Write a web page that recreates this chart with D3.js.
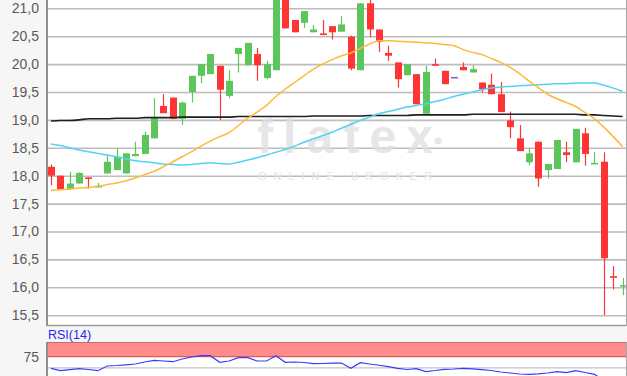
<!DOCTYPE html>
<html>
<head>
<meta charset="utf-8">
<script src="https://cdn.jsdelivr.net/npm/d3@7/dist/d3.min.js"></script>
<style>
  html, body { margin: 0; padding: 0; background: #f6f6f6; }
  svg { display: block; }
  text { font-family: "Liberation Sans", Arial, sans-serif; }
</style>
</head>
<body>
<svg id="chart" width="627" height="376"></svg>
<script>
// Daily OHLC, oldest first
const open  = [18.16,18.00,17.76,17.86,17.97,17.79,18.04,18.10,18.04,18.35,
               18.39,18.67,19.25,19.40,19.02,19.50,19.79,19.82,19.97,19.43,
               20.18,19.98,20.18,19.75,19.89,21.25,20.79,20.74,20.57,20.55,
               20.68,20.58,20.49,19.89,21.09,20.62,20.20,20.03,19.80,19.82,
               19.11,20.00,19.88,19.77,19.95,19.85,19.67,19.63,19.46,18.99,
               18.67,18.24,18.61,18.10,18.12,18.42,18.24,18.76,18.21,18.25,
               16.20,16.02];
const high  = [18.20,18.00,18.07,18.06,17.97,17.87,18.37,18.49,18.40,18.61,
               18.79,19.39,19.46,19.40,19.33,19.79,20.00,20.18,19.97,19.89,
               20.29,20.38,20.29,20.06,21.35,21.30,20.79,20.95,20.70,20.79,
               20.68,20.86,20.51,21.09,21.15,20.62,20.33,20.03,20.00,19.82,
               19.97,20.10,19.88,19.77,20.03,19.98,19.67,19.83,19.68,19.15,
               18.91,18.50,18.61,18.21,18.64,18.61,18.84,18.86,18.42,18.42,
               16.38,16.17];
const low   = [17.83,17.75,17.75,17.86,17.77,17.79,18.04,18.10,18.04,18.35,
               18.39,18.67,19.12,19.02,18.91,19.31,19.66,19.82,19.00,19.39,
               19.85,19.98,19.70,19.73,19.89,20.64,20.57,20.65,20.57,20.52,
               20.44,20.58,19.89,19.89,20.48,20.22,20.06,19.58,19.80,19.28,
               19.11,19.97,19.64,19.77,19.89,19.85,19.49,19.46,19.14,18.67,
               18.44,18.19,17.80,17.95,18.12,18.24,18.24,18.18,18.21,15.50,
               15.96,15.86];
const close = [18.00,17.76,17.86,18.05,17.95,17.82,18.25,18.34,18.40,18.39,
               18.73,19.03,19.12,19.02,19.31,19.79,20.00,20.18,19.54,19.70,
               20.29,20.38,19.98,20.00,21.25,20.64,20.57,20.95,20.62,20.52,
               20.57,20.71,19.92,21.09,20.62,20.40,20.15,19.73,20.00,19.28,
               19.86,19.97,19.64,19.77,19.89,19.91,19.55,19.46,19.14,18.87,
               18.44,18.40,17.95,18.21,18.64,18.37,18.84,18.39,18.23,16.52,
               16.17,16.04];

// Moving averages
const maFast = [17.74,17.75,17.76,17.78,17.79,17.81,17.84,17.87,17.91,17.96,
                18.02,18.08,18.16,18.25,18.34,18.43,18.53,18.62,18.70,18.77,
                18.90,19.03,19.14,19.26,19.42,19.55,19.67,19.79,19.91,20.00,
                20.08,20.15,20.20,20.28,20.36,20.42,20.42,20.41,20.40,20.39,
                20.38,20.37,20.35,20.33,20.26,20.21,20.17,20.10,20.03,19.94,
                19.83,19.70,19.58,19.46,19.38,19.31,19.24,19.13,19.02,18.87,
                18.70,18.52];
const maMid  = [18.57,18.54,18.50,18.46,18.43,18.40,18.37,18.34,18.30,18.27,
                18.25,18.23,18.21,18.20,18.19,18.20,18.22,18.23,18.22,18.21,
                18.24,18.28,18.32,18.37,18.42,18.47,18.53,18.60,18.66,18.72,
                18.78,18.85,18.92,18.99,19.05,19.11,19.15,19.19,19.23,19.26,
                19.29,19.33,19.37,19.42,19.46,19.50,19.54,19.57,19.59,19.60,
                19.61,19.62,19.63,19.64,19.65,19.65,19.66,19.66,19.66,19.62,
                19.57,19.51];
const maSlow = [18.98,18.99,18.99,19.00,19.02,19.02,19.02,19.03,19.03,19.03,
                19.04,19.04,19.04,19.04,19.05,19.05,19.05,19.05,19.05,19.05,
                19.06,19.06,19.06,19.06,19.06,19.06,19.06,19.06,19.07,19.07,
                19.07,19.07,19.07,19.07,19.08,19.08,19.08,19.08,19.08,19.09,
                19.09,19.09,19.09,19.09,19.09,19.10,19.10,19.10,19.10,19.10,
                19.10,19.10,19.10,19.10,19.10,19.10,19.10,19.09,19.09,19.08,
                19.07,19.06];

// RSI(14)
const rsi = [49.1,43.8,46.0,48.2,46.5,43.8,54.2,55.3,56.9,58.6,
             63.1,66.8,65.3,63.7,69.7,74.1,77.0,77.0,62.4,65.3,
             72.6,72.6,65.3,65.3,77.0,62.4,63.1,62.0,59.3,59.7,
             60.4,60.8,49.1,61.5,58.6,55.8,52.7,49.1,46.5,48.2,
             42.0,44.2,46.9,47.6,49.1,48.0,46.0,44.2,40.9,38.7,
             36.5,35.8,36.9,38.7,41.6,39.4,43.8,39.8,35.8,22.0,
             20.0,21.0];

const priceTicks = [21.0,20.5,20.0,19.5,19.0,18.5,18.0,17.5,17.0,16.5,16.0,15.5];
const rsiTicks = [75];
const rsiGrid = [50];

const plotL = 47, plotR = 626;
const mainTop = 0, mainBot = 326;
const rsiTop = 342, rsiBot = 376;

const svg = d3.select("#chart");
const idx = d3.range(open.length);

const x = d3.scaleLinear().domain([0, open.length - 1]).range([51, 622.6]);
const y = d3.scaleLinear().domain([15.5, 21.0]).range([315.2, 8.3]);
const yr = d3.scaleLinear().domain([50, 75]).range([367.9, 356.6]);
const fmt = v => d3.format(".1f")(v).replace(".", ",");

// panels
svg.append("rect").attr("x", plotL).attr("y", mainTop)
  .attr("width", plotR - plotL).attr("height", mainBot - mainTop).attr("fill", "#fff");
svg.append("rect").attr("x", plotL).attr("y", rsiTop)
  .attr("width", plotR - plotL).attr("height", rsiBot - rsiTop).attr("fill", "#fff");

const defs = svg.append("defs");
defs.append("clipPath").attr("id", "mainClip")
  .append("rect").attr("x", plotL).attr("y", mainTop)
  .attr("width", plotR - plotL).attr("height", mainBot - mainTop);
defs.append("clipPath").attr("id", "rsiClip")
  .append("rect").attr("x", plotL).attr("y", rsiTop)
  .attr("width", plotR - plotL).attr("height", rsiBot - rsiTop);

// price grid + labels
const yAxis = d3.axisLeft(y).tickValues(priceTicks).tickFormat(fmt)
  .tickSize(-(plotR - plotL)).tickPadding(8);
const gy = svg.append("g").attr("transform", `translate(${plotL},0)`).call(yAxis);
gy.select(".domain").remove();
gy.selectAll(".tick line").attr("stroke", "#bdbdbd").attr("stroke-width", 1.6);
gy.selectAll(".tick text").attr("fill", "#5a5a5a").attr("font-size", 14)
  .attr("font-family", "Liberation Sans, Arial, sans-serif");

// watermark
const wm = svg.append("g").attr("clip-path", "url(#mainClip)");
wm.append("text").attr("x", 257).attr("y", 153)
  .attr("textLength", 176).attr("lengthAdjust", "spacing")
  .attr("font-family", "Lato, sans-serif").attr("font-weight", 700).attr("font-size", 48)
  .attr("fill", "#e0e0e0").attr("fill-opacity", 0.8).text("flatex");
wm.append("circle").attr("cx", 438).attr("cy", 141).attr("r", 3.6)
  .attr("fill", "#e0e0e0").attr("fill-opacity", 0.8);
wm.append("text").attr("x", 258).attr("y", 180)
  .attr("textLength", 174).attr("lengthAdjust", "spacing")
  .attr("font-family", "Liberation Sans, Arial, sans-serif").attr("font-size", 11)
  .attr("fill", "#e4e4e4").text("ONLINE BROKER");

// candles
const up = "#5cc65c", down = "#ff3535", flat = "#8a5fd6";
const colorOf = i => close[i] > open[i] ? up : (close[i] < open[i] ? down : flat);
const cg = svg.append("g").attr("clip-path", "url(#mainClip)");
const bodyW = 7;
cg.selectAll("line.wick").data(idx).join("line").attr("class", "wick")
  .attr("x1", i => Math.round(x(i)) + 0.5).attr("x2", i => Math.round(x(i)) + 0.5)
  .attr("y1", i => y(high[i])).attr("y2", i => y(low[i]))
  .attr("stroke", colorOf).attr("stroke-width", 1.2);
cg.selectAll("rect.body").data(idx).join("rect").attr("class", "body")
  .attr("x", i => Math.round(x(i)) + 0.5 - bodyW / 2)
  .attr("width", bodyW)
  .attr("y", i => y(Math.max(open[i], close[i])))
  .attr("height", i => Math.max(1.6, Math.abs(y(open[i]) - y(close[i]))))
  .attr("fill", colorOf);

// moving averages
const line = d3.line().x((d, i) => x(i)).y(d => y(d)).curve(d3.curveMonotoneX);
const lg = svg.append("g").attr("clip-path", "url(#mainClip)").attr("fill", "none");
lg.append("path").datum(maSlow).attr("d", line).attr("stroke", "#1e1e1e").attr("stroke-width", 1.6);
lg.append("path").datum(maMid).attr("d", line).attr("stroke", "#4fd3f2").attr("stroke-width", 1.5);
lg.append("path").datum(maFast).attr("d", line).attr("stroke", "#ffb93a").attr("stroke-width", 1.5);

// main frame
svg.append("line").attr("x1", plotL).attr("x2", plotL).attr("y1", 0).attr("y2", mainBot)
  .attr("stroke", "#8f8f8f").attr("stroke-width", 2);
svg.append("line").attr("x1", plotL).attr("x2", plotR).attr("y1", mainBot - 0.5).attr("y2", mainBot - 0.5)
  .attr("stroke", "#9a9a9a").attr("stroke-width", 1.5);
svg.append("line").attr("x1", plotR + 0.5).attr("x2", plotR + 0.5).attr("y1", 0).attr("y2", mainBot)
  .attr("stroke", "#a8a8a8").attr("stroke-width", 1);

// RSI panel
svg.append("text").attr("x", 48).attr("y", 339).attr("font-size", 12.5)
  .attr("fill", "#2525f0").text("RSI(14)");
svg.append("rect").attr("x", plotL).attr("y", rsiTop)
  .attr("width", plotR - plotL).attr("height", yr(75) - rsiTop)
  .attr("fill", "#ff8b8b");
svg.append("line").attr("x1", plotL).attr("x2", plotR).attr("y1", rsiTop + 0.5).attr("y2", rsiTop + 0.5)
  .attr("stroke", "#c86a6a").attr("stroke-width", 1.2);
svg.append("line").attr("x1", plotL).attr("x2", plotR).attr("y1", yr(75)).attr("y2", yr(75))
  .attr("stroke", "#d95a5a").attr("stroke-width", 1.2);
svg.selectAll("line.rsigrid").data(rsiGrid).join("line").attr("class", "rsigrid")
  .attr("x1", plotL).attr("x2", plotR).attr("y1", d => yr(d)).attr("y2", d => yr(d))
  .attr("stroke", "#c4c4c4").attr("stroke-width", 1.4);
svg.selectAll("text.rsitick").data(rsiTicks).join("text").attr("class", "rsitick")
  .attr("x", 39).attr("y", d => yr(d)).attr("dy", "0.35em").attr("text-anchor", "end")
  .attr("font-size", 14).attr("fill", "#5a5a5a").text(d => d);

const rline = d3.line().x((d, i) => x(i)).y(d => yr(d));
svg.append("path").datum(rsi).attr("d", rline).attr("clip-path", "url(#rsiClip)")
  .attr("fill", "none").attr("stroke", "#3a3aff").attr("stroke-width", 1.2);

svg.append("line").attr("x1", plotL).attr("x2", plotL).attr("y1", rsiTop).attr("y2", rsiBot)
  .attr("stroke", "#8f8f8f").attr("stroke-width", 2);
svg.append("line").attr("x1", plotR + 0.5).attr("x2", plotR + 0.5).attr("y1", rsiTop).attr("y2", rsiBot)
  .attr("stroke", "#a8a8a8").attr("stroke-width", 1);
</script>
</body>
</html>
